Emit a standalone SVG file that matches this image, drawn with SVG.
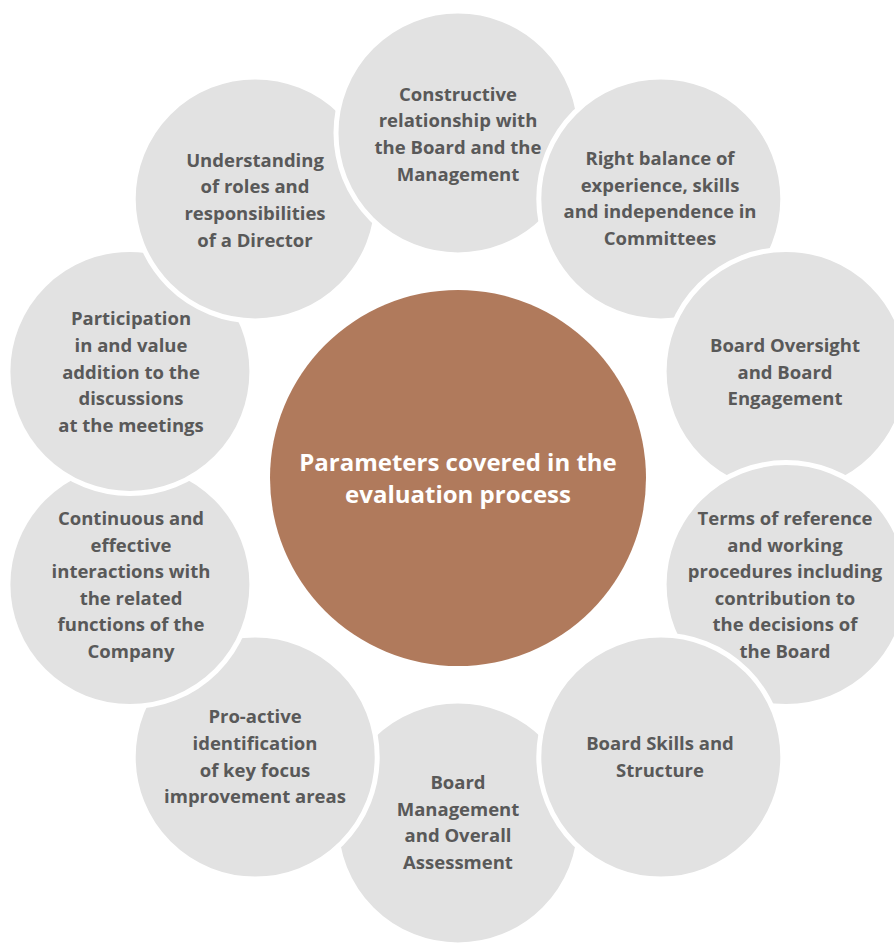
<svg xmlns="http://www.w3.org/2000/svg" width="894" height="944" viewBox="0 0 894 944">
<style>
.bg{fill:#ffffff}
.node circle{fill:#E2E2E2;stroke:#ffffff;stroke-width:5}
.node text{font-family:"Open Sans","Noto Sans","Liberation Sans",sans-serif;font-weight:700;font-size:18.5px;fill:#595959;text-anchor:middle}
#center circle{fill:#B07A5C}
#center text{font-family:"Open Sans","Noto Sans","Liberation Sans",sans-serif;font-weight:700;font-size:24px;fill:#ffffff;text-anchor:middle}
</style>
<rect class="bg" x="0" y="0" width="894" height="944"/>
<g id="connectors"/>
<g id="n-management" class="node">
<circle cx="458" cy="823" r="122"/>
<text x="458" y="788.5">Board</text>
<text x="458" y="815.5">Management</text>
<text x="458" y="841.5">and Overall</text>
<text x="458" y="868.5">Assessment</text>
</g>
<g id="n-proactive" class="node">
<circle cx="255.2" cy="757.1" r="122"/>
<text x="255" y="722.5">Pro-active</text>
<text x="255" y="749.5">identification</text>
<text x="255" y="776.5">of key focus</text>
<text x="255" y="802.5">improvement areas</text>
</g>
<g id="n-continuous" class="node">
<circle cx="129.9" cy="584.6" r="122"/>
<text x="131" y="524.5">Continuous and</text>
<text x="131" y="551.5">effective</text>
<text x="131" y="577.5">interactions with</text>
<text x="131" y="604.5">the related</text>
<text x="131" y="630.5">functions of the</text>
<text x="131" y="657.5">Company</text>
</g>
<g id="n-participation" class="node">
<circle cx="129.9" cy="371.4" r="122"/>
<text x="131" y="324.5">Participation</text>
<text x="131" y="351.5">in and value</text>
<text x="131" y="378.5">addition to the</text>
<text x="131" y="404.5">discussions</text>
<text x="131" y="431.5">at the meetings</text>
</g>
<g id="n-understanding" class="node">
<circle cx="255.2" cy="198.9" r="122"/>
<text x="255" y="166.5">Understanding</text>
<text x="255" y="192.5">of roles and</text>
<text x="255" y="219.5">responsibilities</text>
<text x="255" y="246.5">of a Director</text>
</g>
<g id="n-constructive" class="node">
<circle cx="458" cy="133" r="122"/>
<text x="458" y="100.5">Constructive</text>
<text x="458" y="126.5">relationship with</text>
<text x="458" y="153.5">the Board and the</text>
<text x="458" y="180.5">Management</text>
</g>
<g id="n-balance" class="node">
<circle cx="660.8" cy="198.9" r="122"/>
<text x="660" y="164.5">Right balance of</text>
<text x="660" y="191.5">experience, skills</text>
<text x="660" y="217.5">and independence in</text>
<text x="660" y="244.5">Committees</text>
</g>
<g id="n-oversight" class="node">
<circle cx="786.1" cy="371.4" r="122"/>
<text x="785" y="351.5">Board Oversight</text>
<text x="785" y="378.5">and Board</text>
<text x="785" y="404.5">Engagement</text>
</g>
<g id="n-terms" class="node">
<circle cx="786.1" cy="584.6" r="122"/>
<text x="785" y="524.5">Terms of reference</text>
<text x="785" y="551.5">and working</text>
<text x="785" y="577.5">procedures including</text>
<text x="785" y="604.5">contribution to</text>
<text x="785" y="630.5">the decisions of</text>
<text x="785" y="657.5">the Board</text>
</g>
<g id="n-skills" class="node">
<circle cx="660.8" cy="757.1" r="122"/>
<text x="660" y="749.5">Board Skills and</text>
<text x="660" y="776.5">Structure</text>
</g>
<g id="center">
<circle cx="458" cy="478" r="188"/>
<text x="458" y="470.5">Parameters covered in the</text>
<text x="458" y="502.5">evaluation process</text>
</g>
</svg>
